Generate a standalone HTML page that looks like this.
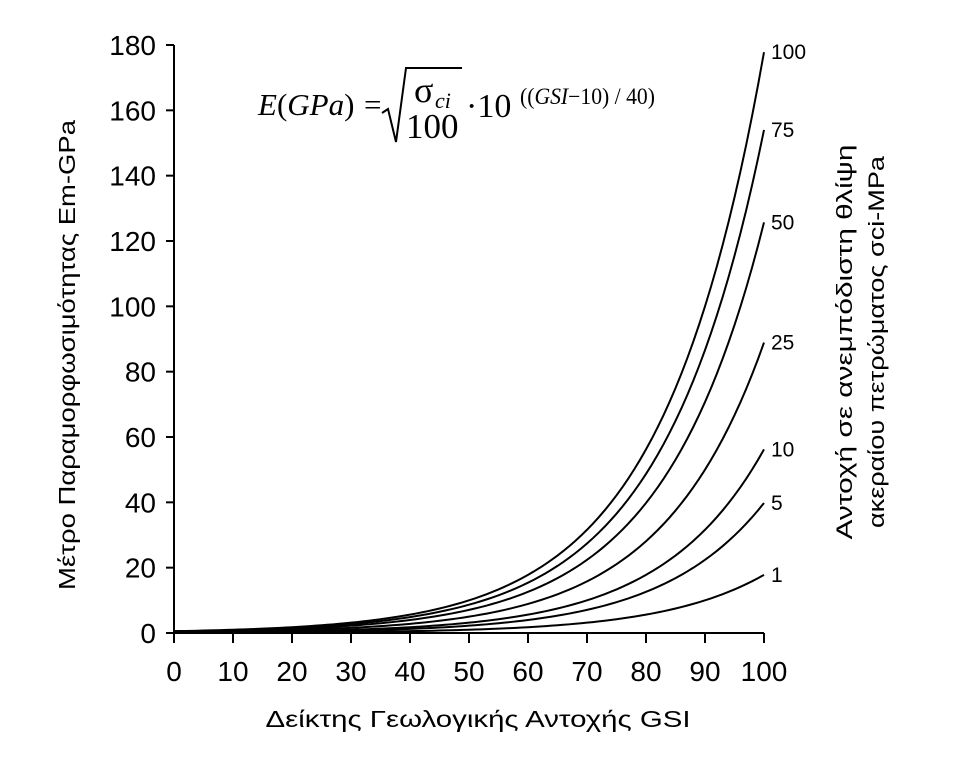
<!DOCTYPE html>
<html><head><meta charset="utf-8"><style>
html,body{margin:0;padding:0;background:#fff;}
svg{display:block;}
text{font-family:"Liberation Sans",sans-serif;fill:#000;}
text.f{font-family:"Liberation Serif",serif;}
.i{font-style:italic;}
</style></head><body>
<svg id="chart" width="974" height="757" viewBox="0 0 974 757" xmlns="http://www.w3.org/2000/svg">
<g id="axes"></g>
<g id="curves"></g>
<g id="labels"></g>
<text transform="translate(75,355) rotate(-90)" text-anchor="middle" font-size="23" textLength="470" lengthAdjust="spacingAndGlyphs">Μέτρο Παραμορφωσιμότητας Em-GPa</text>
<text x="478" y="727" text-anchor="middle" font-size="23" textLength="425" lengthAdjust="spacingAndGlyphs">Δείκτης Γεωλογικής Αντοχής GSI</text>
<g transform="rotate(-90)">
<text x="-342" y="852" text-anchor="middle" font-size="22" textLength="395" lengthAdjust="spacingAndGlyphs">Αντοχή σε ανεμπόδιστη θλίψη</text>
<text x="-342" y="884" text-anchor="middle" font-size="22" textLength="372" lengthAdjust="spacingAndGlyphs">ακεραίου πετρώματος σci-MPa</text>
</g>
<g>
<text class="f" x="258" y="115" font-size="31"><tspan class="i">E</tspan>(<tspan class="i">GPa</tspan>)</text>
<text class="f" x="364" y="115" font-size="31">=</text>
<path d="M382,113 L388,109 L396,142 L406,68 L462,68" stroke="#000" stroke-width="2" fill="none"/>
<text class="f" x="414" y="102" font-size="36">σ</text>
<text class="f i" x="435" y="108" font-size="22">ci</text>
<text class="f" x="406" y="138" font-size="35">100</text>
<text class="f" x="466" y="117" font-size="34">·10</text>
<text class="f" x="520" y="104" font-size="23" textLength="135" lengthAdjust="spacingAndGlyphs">((<tspan class="i">GSI</tspan>−10) / 40)</text>
</g>
</svg>
<script>
const gsiValues = [0,10,20,30,40,50,60,70,80,90,100];
const seriesNames = ["100","75","50","25","10","5","1"];
const s100 = [0.56,1.0,1.78,3.16,5.62,10.0,17.8,31.6,56.2,100,177.8];
const s75 = [0.49,0.87,1.54,2.74,4.87,8.66,15.4,27.4,48.7,86.6,154];
const s50 = [0.40,0.71,1.26,2.24,3.98,7.07,12.6,22.4,39.8,70.7,125.7];
const s25 = [0.28,0.50,0.89,1.58,2.81,5.0,8.9,15.8,28.1,50,88.9];
const s10 = [0.18,0.32,0.56,1.0,1.78,3.16,5.62,10.0,17.8,31.6,56.2];
const s5 = [0.13,0.22,0.40,0.71,1.26,2.24,3.98,7.07,12.6,22.4,39.8];
const s1 = [0.06,0.10,0.18,0.32,0.56,1.0,1.78,3.16,5.62,10.0,17.8];
const seriesValues = [s100,s75,s50,s25,s10,s5,s1];
const xTicks = [0,10,20,30,40,50,60,70,80,90,100];
const yTicks = [0,20,40,60,80,100,120,140,160,180];

const X0=174,X1=764,Y0=633,Y1=45;
const xs=v=>X0+(v/100)*(X1-X0);
const ys=v=>Y0-(v/180)*(Y0-Y1);
const NS="http://www.w3.org/2000/svg";
function mk(tag,parent,attrs){const e=document.createElementNS(NS,tag);for(const k in attrs)e.setAttribute(k,attrs[k]);parent.appendChild(e);return e;}
const ax=document.getElementById('axes');
let a=mk('line',ax,{x1:X0,y1:Y1,x2:X0,y2:Y0,stroke:'#000','stroke-width':2});


a=mk('line',ax,{x1:X0,y1:Y0,x2:X1,y2:Y0,stroke:'#000','stroke-width':2});


yTicks.forEach(t=>{
  const y=ys(t);
  const l=mk('line',ax,{x1:X0-8,y1:y,x2:X0,y2:y,stroke:'#000','stroke-width':2});
  
  
  const tx=mk('text',ax,{x:X0-18,y:y+10,'text-anchor':'end','font-size':28});
  tx.textContent=t;
  
  
});
xTicks.forEach(t=>{
  const x=xs(t);
  const l=mk('line',ax,{x1:x,y1:Y0,x2:x,y2:Y0+10,stroke:'#000','stroke-width':2});
  
  
  const tx=mk('text',ax,{x:x,y:Y0+48,'text-anchor':'middle','font-size':28});
  tx.textContent=t;
  
  
});
const cg=document.getElementById('curves'), lg=document.getElementById('labels');
seriesValues.forEach((vals,i)=>{
  let d='';
  for(let k=0;k<vals.length-1;k++){
    for(let j=0;j<10;j++){
      const f=j/10;
      const g=gsiValues[k]+f*(gsiValues[k+1]-gsiValues[k]);
      const v=Math.exp(Math.log(vals[k])*(1-f)+Math.log(vals[k+1])*f);
      d+=(d?'L':'M')+xs(g).toFixed(2)+','+ys(v).toFixed(2);
    }
  }
  d+='L'+xs(gsiValues[gsiValues.length-1]).toFixed(2)+','+ys(vals[vals.length-1]).toFixed(2);
  const p=mk('path',cg,{d:d,fill:'none',stroke:'#000','stroke-width':2});
  
  
  const last=vals[vals.length-1];
  const t=mk('text',lg,{x:X1+7,y:ys(last)+7,'font-size':21});
  t.textContent=seriesNames[i];
  
  
});
</script>
</body></html>
